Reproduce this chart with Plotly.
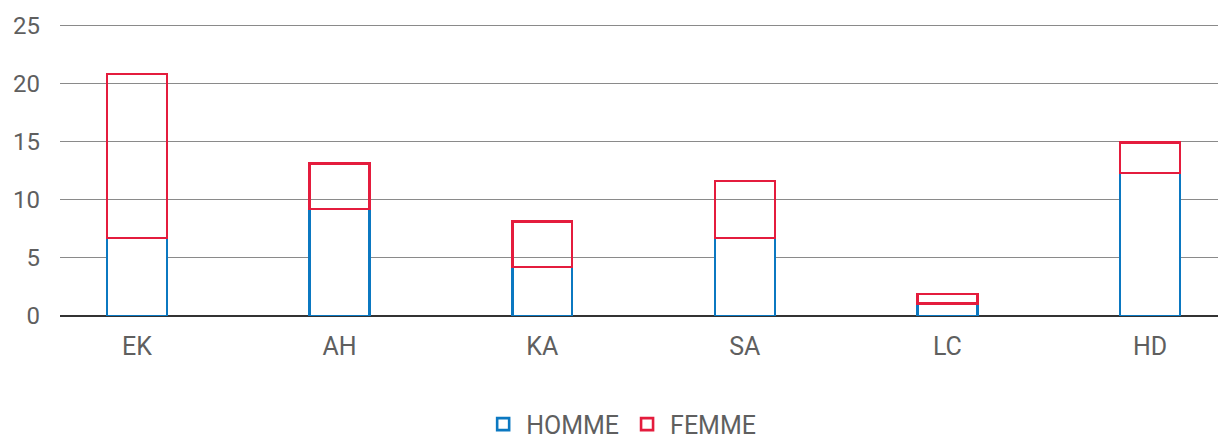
import plotly.graph_objects as go

categories = ["EK", "AH", "KA", "SA", "LC", "HD"]
homme = [6.7, 9.2, 4.2, 6.7, 1.1, 12.3]
femme = [14.1, 3.9, 3.9, 4.9, 0.8, 2.6]
y_ticks = [0, 5, 10, 15, 20, 25]

BLUE = "#0B78C1"
RED = "#E41C3D"
TXT = "#5f5f5f"

fig = go.Figure()
fig.add_trace(go.Bar(
    name="HOMME", x=categories, y=homme, width=0.296,
    marker=dict(color="white", line=dict(color=BLUE, width=2.6)),
))
fig.add_trace(go.Bar(
    name="FEMME", x=categories, y=femme, width=0.296,
    marker=dict(color="rgba(255,255,255,0)", line=dict(color=RED, width=2.6)),
))

# page is rendered with an 8px body margin, so the figure is 1218x436
fig.update_layout(
    barmode="stack",
    width=1218, height=436,
    margin=dict(l=52, r=0, t=16, b=128, autoexpand=False),
    plot_bgcolor="white", paper_bgcolor="white",
    font=dict(family="Roboto", size=24, color=TXT),
    showlegend=True,
    legend=dict(
        orientation="h", traceorder="normal",
        xref="container", yref="container",
        x=0.503, xanchor="center", y=0.045, yanchor="middle",
        font=dict(size=25, color=TXT), itemwidth=36,
        bgcolor="rgba(0,0,0,0)",
    ),
    xaxis=dict(
        type="category", range=[-0.38, 5.375], automargin=False,
        showgrid=False, ticks="", showline=False,
        ticklabelstandoff=13,
        tickfont=dict(size=25, color=TXT),
    ),
    yaxis=dict(
        range=[0, 25.1], tickvals=y_ticks, automargin=False,
        showgrid=True, gridcolor="#8a8a8a", gridwidth=1.2,
        zeroline=True, zerolinecolor="#333333", zerolinewidth=1.5,
        ticks="", ticklabelstandoff=19,
        tickfont=dict(size=24, color=TXT),
    ),
)

fig.write_html("out.html")
